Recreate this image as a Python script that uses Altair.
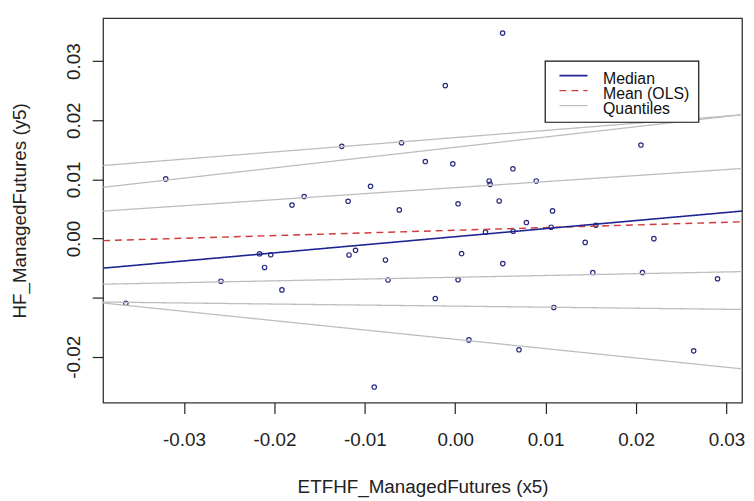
import altair as alt
import pandas as pd

# ---- data ----
x_vals = [-0.03202, -0.01255, -0.00594, -0.00937, -0.01671, -0.01806, -0.01185, -0.00619,
          0.00524, -0.00110, -0.00331, -0.00027, 0.00638, 0.00375, 0.00386, 0.00896,
          0.00031, 0.00486, 0.01076, 0.02054, 0.00787, 0.00334, 0.00641, 0.01061,
          0.01556, 0.01437, 0.02197, 0.00070, 0.00526, 0.00031, -0.00221, 0.01090,
          0.00151, 0.00705, 0.01521, 0.02071, 0.02901, 0.02637, -0.02164, -0.02041,
          -0.02109, -0.01175, -0.01103, -0.00772, -0.01917, -0.00743, -0.00896, -0.02591,
          -0.03643]
y_vals = [0.01008, 0.01559, 0.01620, 0.00883, 0.00710, 0.00565, 0.00630, 0.00484,
          0.03474, 0.02586, 0.01302, 0.01263, 0.01179, 0.00973, 0.00916, 0.00973,
          0.00588, 0.00635, 0.00467, 0.01581, 0.00271, 0.00107, 0.00124, 0.00191,
          0.00224, -0.00065, -0.00002, -0.00256, -0.00424, -0.00697, -0.01015, -0.01166,
          -0.01714, -0.01881, -0.00575, -0.00575, -0.00680, -0.01899, -0.00258, -0.00275,
          -0.00489, -0.00278, -0.00199, -0.00362, -0.00869, -0.00702, -0.02511, -0.00722,
          -0.01095]

line_ids = ["q05", "q10", "q25", "q75", "q90", "q95", "ols", "median"]
line_groups = ["Quantiles", "Quantiles", "Quantiles", "Quantiles", "Quantiles", "Quantiles",
               "Mean (OLS)", "Median"]
intercepts = [-0.01704, -0.01143, -0.00655, 0.00861, 0.01543, 0.01707, 0.00140, 0.00031]
slopes = [-0.1576, -0.0177, 0.0301, 0.1019, 0.1738, 0.1213, 0.0450, 0.1366]

legend_labels = ["Median", "Mean (OLS)", "Quantiles"]
legend_colors = ["#1c2590", "#d03a3a", "#bdbdbd"]
legend_dashes = [[1, 0], [7, 5], [1, 0]]
legend_widths = [1.6, 1.3, 1.2]

x_ticks = [-0.03, -0.02, -0.01, 0.00, 0.01, 0.02, 0.03]
y_ticks = [-0.02, -0.01, 0.00, 0.01, 0.02, 0.03]

X_DOMAIN = [-0.03895, 0.03172]
Y_DOMAIN = [-0.02774, 0.03725]

FONT = "Liberation Sans"

pts = pd.DataFrame({"x": x_vals, "y": y_vals})

rows = []
for lid, grp, a, b in zip(line_ids, line_groups, intercepts, slopes):
    for xx in X_DOMAIN:
        rows.append({"id": lid, "series": grp, "x": xx, "y": a + b * xx})
lines = pd.DataFrame(rows)

xscale = alt.Scale(domain=X_DOMAIN, nice=False, zero=False)
yscale = alt.Scale(domain=Y_DOMAIN, nice=False, zero=False)

fmt = "replace(format(datum.value, '.2f'), '\u2212', '-')"

xaxis = alt.Axis(
    values=x_ticks, labelExpr=fmt, title="ETFHF_ManagedFutures (x5)",
    grid=False, domain=False, tickSize=11, tickColor="#222", tickWidth=1.2,
    labelFont=FONT, labelFontSize=19, labelColor="#222", labelPadding=17,
    labelBaseline="top", labelAlign="center",
    titleFont=FONT, titleFontSize=19, titleFontWeight="normal", titleColor="#222",
    titleBaseline="alphabetic", titleY=91, titleX=322.5, titleAlign="center",
)
yaxis = alt.Axis(
    values=y_ticks,
    labelExpr="abs(datum.value + 0.01) < 1e-6 ? '' : " + fmt,
    title="HF_ManagedFutures (y5)",
    grid=False, domain=False, tickSize=11, tickColor="#222", tickWidth=1.2,
    labelFont=FONT, labelFontSize=19, labelColor="#222", labelPadding=9,
    labelAngle=270, labelAlign="center", labelBaseline="bottom",
    titleFont=FONT, titleFontSize=19, titleFontWeight="normal", titleColor="#222",
    titleAngle=270, titleBaseline="alphabetic", titleX=-78, titleY=194, titleAlign="center",
)

points = alt.Chart(pts).mark_point(
    filled=False, size=20, strokeWidth=1.2, color="#262a7e", opacity=1
).encode(
    x=alt.X("x:Q", scale=xscale, axis=xaxis),
    y=alt.Y("y:Q", scale=yscale, axis=yaxis),
)

line_layer = alt.Chart(lines).mark_line(clip=True).encode(
    x=alt.X("x:Q", scale=xscale),
    y=alt.Y("y:Q", scale=yscale),
    detail="id:N",
    color=alt.Color("series:N",
                    scale=alt.Scale(domain=legend_labels, range=legend_colors),
                    legend=None),
    strokeDash=alt.StrokeDash("series:N",
                              scale=alt.Scale(domain=legend_labels, range=legend_dashes),
                              legend=None),
    strokeWidth=alt.StrokeWidth("series:N",
                                scale=alt.Scale(domain=legend_labels, range=legend_widths),
                                legend=None),
)

# ---- legend box drawn like R's legend() ----
one = pd.DataFrame({"k": [0]})
legend_layers = [
    alt.Chart(one).mark_rect(fill="white", stroke="#111", strokeWidth=1.2).encode(
        x=alt.value(446.3), x2=alt.value(601.3), y=alt.value(43.3), y2=alt.value(105)
    )
]
for i, (lab, col, dash, w) in enumerate(zip(legend_labels, legend_colors, legend_dashes, legend_widths)):
    ly = 58 + 15.1 * i
    legend_layers.append(
        alt.Chart(one).mark_rule(color=col, strokeDash=dash, strokeWidth=w + 0.1).encode(
            x=alt.value(460.7), x2=alt.value(489), y=alt.value(ly)
        )
    )
    legend_layers.append(
        alt.Chart(one).mark_text(
            text=lab, font=FONT, fontSize=16, color="#111",
            align="left", baseline="alphabetic"
        ).encode(x=alt.value(504.7), y=alt.value(ly + 8.6))
    )

chart = alt.layer(points, line_layer, *legend_layers).properties(
    width=645, height=388,
    padding={"left": 96, "top": 8, "right": 4, "bottom": 96},
    autosize=alt.AutoSizeParams(type="none"),
    background="white",
).configure_view(stroke="#333", strokeWidth=1.3)

chart.save("out.html", embed_options={"renderer": "svg", "actions": False})
